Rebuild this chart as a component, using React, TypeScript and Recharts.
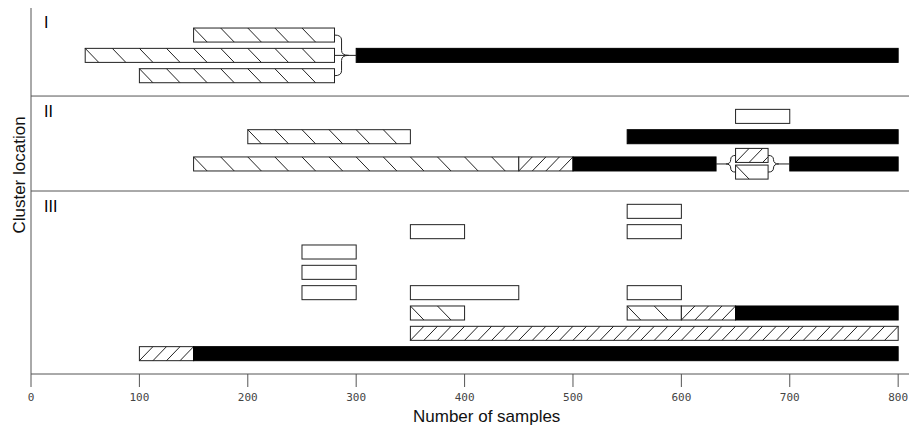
import React from 'react';
import { ComposedChart, XAxis, YAxis, ReferenceArea, ReferenceLine, ReferenceDot, Label } from 'recharts';

// x axis ticks (number of samples)
const xTicks = [0, 100, 200, 300, 400, 500, 600, 700, 800];

// panel names and the lane where each name sits
const panelNames = ['I', 'II', 'III'];
const panelNameLanes = [1.0, 5.35, 10.02];
const panelNameX = 12;

// lanes where one panel ends and the next begins
const panelBreaks = [4.33, 9];

// segments: [lane, start, end]
const backHatched: [number, number, number][] = [
  [1.33, 150, 280], [2.33, 50, 280], [3.33, 100, 280],
  [6.33, 200, 350], [7.67, 150, 450], [8.07, 650, 680],
  [15, 350, 400], [15, 550, 600],
];
const fwdHatched: [number, number, number][] = [
  [7.67, 450, 500], [7.25, 650, 680],
  [15, 600, 650], [16, 350, 800], [17, 100, 150],
];
const solidBars: [number, number, number][] = [
  [2.33, 300, 800],
  [6.33, 550, 800], [7.67, 500, 632], [7.67, 700, 800],
  [15, 650, 800], [17, 150, 800],
];
const openBars: [number, number, number][] = [
  [5.33, 650, 700],
  [10, 550, 600], [11, 350, 400], [11, 550, 600],
  [12, 250, 300], [13, 250, 300],
  [14, 250, 300], [14, 350, 450], [14, 550, 600],
];

// links between segments: [fromX, fromLane, toX, toLane]
const links: [number, number, number, number][] = [
  [280, 2.33, 300, 2.33], [280, 1.33, 293, 2.33], [280, 3.33, 293, 2.33],
  [632, 7.67, 641, 7.67], [641, 7.67, 650, 7.25], [641, 7.67, 650, 8.07],
  [680, 7.25, 690, 7.67], [680, 8.07, 690, 7.67], [690, 7.67, 700, 7.67],
];

const BAR_HALF = 0.345;
const INK = '#222';
const AXIS = '#555';
const SANS = '"Liberation Sans", Arial, sans-serif';

type Kind = 'back' | 'fwd' | 'solid' | 'open';

const SegmentShape = (props: any, kind: Kind, span: number) => {
  const { x, y, width, height } = props;
  const ppu = width / span;
  const lines: React.ReactNode[] = [];
  if (kind === 'back') {
    const step = 25 * ppu;
    const d = 12.5 * ppu;
    for (let i = 0; x + i * step + d <= x + width + 0.5; i++) {
      const x0 = x + i * step;
      lines.push(<line key={i} x1={x0} y1={y} x2={x0 + d} y2={y + height} stroke={INK} strokeWidth={1} />);
    }
  } else if (kind === 'fwd') {
    const step = 12.5 * ppu;
    for (let i = 0; x + i * step < x + width - 0.5; i++) {
      const x0 = x + i * step;
      const x1 = Math.min(x0 + step, x + width);
      const y1 = y + height - ((x1 - x0) / step) * height;
      lines.push(<line key={i} x1={x0} y1={y + height} x2={x1} y2={y1} stroke={INK} strokeWidth={1} />);
    }
  }
  const solid = kind === 'solid';
  return (
    <g>
      <rect x={x} y={y} width={width} height={height} fill={solid ? '#000' : '#fff'} stroke={solid ? '#000' : INK} strokeWidth={1} />
      {lines}
    </g>
  );
};

const LinkShape = (props: any) => {
  const { x1, y1, x2, y2 } = props;
  let d: string;
  if (Math.abs(y2 - y1) < 0.5) {
    d = `M${x1},${y1} L${x2},${y2}`;
  } else {
    const xm = (x1 + x2) / 2;
    const s = Math.sign(y2 - y1);
    const r = Math.min(5, Math.abs(y2 - y1) / 2);
    d = `M${x1},${y1} Q${xm},${y1} ${xm},${y1 + s * r} L${xm},${y2 - s * r} Q${xm},${y2} ${x2},${y2}`;
  }
  return <path d={d} fill="none" stroke={INK} strokeWidth={1} />;
};

const renderSegments = (rows: [number, number, number][], kind: Kind) =>
  rows.map(([lane, start, end], i) => (
    <ReferenceArea
      key={`${kind}-${i}`}
      x1={start}
      x2={end}
      y1={lane - BAR_HALF}
      y2={lane + BAR_HALF}
      ifOverflow="visible"
      shape={(p: any) => SegmentShape(p, kind, end - start)}
    />
  ));

const XTick = ({ x, y, payload }: any) => (
  <text x={x} y={y + 12} textAnchor="middle" fill="#444" fontSize={11} fontFamily='"DejaVu Sans Mono", monospace'>
    {payload.value}
  </text>
);

export default function App() {
  return (
    <div style={{ position: 'absolute', left: 0, top: 0 }}>
      <ComposedChart width={909} height={425} data={[]} margin={{ top: 8, right: 0, bottom: 0, left: 0 }}>
        <XAxis
          type="number"
          dataKey="x"
          domain={[0, 810]}
          ticks={xTicks}
          interval={0}
          allowDataOverflow
          height={51}
          tickSize={13}
          axisLine={{ stroke: AXIS }}
          tickLine={{ stroke: AXIS }}
          tick={<XTick />}
        >
          <Label
            content={({ viewBox }: any) => (
              <text x={viewBox.x + viewBox.width * 0.519} y={viewBox.y + 48} textAnchor="middle" fontSize={17} fontFamily={SANS} fill="#111">
                Number of samples
              </text>
            )}
          />
        </XAxis>
        <YAxis
          type="number"
          dataKey="y"
          domain={[0, 18]}
          reversed
          allowDataOverflow
          width={31}
          tick={false}
          tickLine={false}
          axisLine={{ stroke: AXIS }}
        >
          <Label
            content={({ viewBox }: any) => {
              const cx = viewBox.x + 24.5;
              const cy = viewBox.y + viewBox.height / 2 - 16;
              return (
                <text x={cx} y={cy} transform={`rotate(-90, ${cx}, ${cy})`} textAnchor="middle" fontSize={17} fontFamily={SANS} fill="#111">
                  Cluster location
                </text>
              );
            }}
          />
        </YAxis>

        {panelBreaks.map((lane) => (
          <ReferenceLine key={`br-${lane}`} y={lane} stroke={AXIS} strokeWidth={1} />
        ))}

        {panelNames.map((name, i) => (
          <ReferenceDot
            key={name}
            x={panelNameX}
            y={panelNameLanes[i]}
            r={0}
            ifOverflow="visible"
            shape={(p: any) => (
              <text x={p.cx} y={p.cy} fontSize={16} fontFamily={SANS} fill="#000" stroke="none">
                {name}
              </text>
            )}
          />
        ))}

        {links.map(([fx, fl, tx, tl], i) => (
          <ReferenceLine
            key={`ln-${i}`}
            segment={[{ x: fx, y: fl }, { x: tx, y: tl }]}
            ifOverflow="visible"
            shape={LinkShape}
          />
        ))}

        {renderSegments(backHatched, 'back')}
        {renderSegments(fwdHatched, 'fwd')}
        {renderSegments(solidBars, 'solid')}
        {renderSegments(openBars, 'open')}
      </ComposedChart>
    </div>
  );
}
